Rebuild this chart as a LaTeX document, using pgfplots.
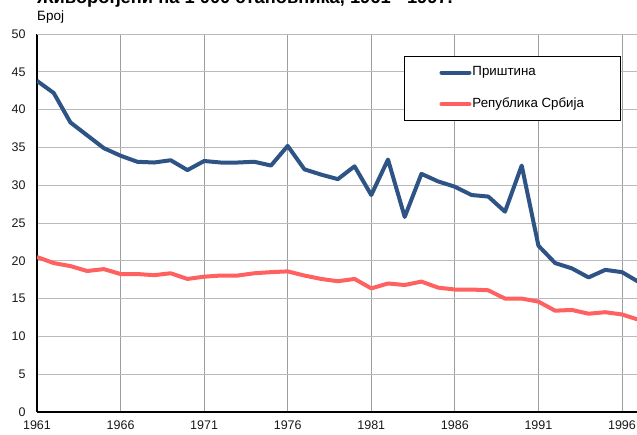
\documentclass[border=0pt]{standalone}
\usepackage{fontspec}
\setmainfont{Liberation Sans}
\usepackage{pgfplots}
\pgfplotsset{compat=1.18}
\definecolor{pblue}{RGB}{46,84,133}
\definecolor{pred}{RGB}{255,96,96}
\begin{document}
\begin{tikzpicture}
\begin{axis}[
  name=ax,
  scale only axis,
  width=601.7pt, height=378pt,
  xmin=1961, xmax=1997, ymin=0, ymax=50,
  xtick={1961,1966,...,1996},
  ytick={0,5,...,45},
  extra y ticks={50},
  extra y tick style={grid style={black, line width=1.2pt}},
  axis x line=bottom, axis y line=left,
  axis line style={-, black, line width=1.2pt},
  major tick length=0pt,
  grid=major,
  x grid style={color=black!38, line width=0.9pt},
  y grid style={color=black!27, line width=0.9pt},
  /pgf/number format/assume math mode=true,
  /pgf/number format/1000 sep={},
  tick label style={font=\fontsize{12.5}{14}\selectfont, text=black!90},
  yticklabel style={anchor=east, xshift=-8pt},
  xticklabel style={anchor=north, yshift=-5pt},
  legend style={at={(rel axis cs:0.61,0.942)}, anchor=north west,
    draw=black, line width=0.9pt, inner xsep=35pt, inner ysep=9pt,
    row sep=17pt,
    font=\fontsize{13.3}{15}\selectfont,
    nodes={inner sep=1pt, text height=9.5pt, text depth=3pt},
    /tikz/every even column/.append style={column sep=5pt}},
  legend cell align=left,
  legend image code/.code={\draw[#1, line cap=round] (0pt,0pt) -- (28pt,0pt);},
  every axis plot/.append style={line width=4pt, line join=round},
]
\addplot[pblue] coordinates {
(1961,43.8) (1962,42.2) (1963,38.3) (1964,36.6) (1965,34.9) (1966,33.9)
(1967,33.1) (1968,33.0) (1969,33.3) (1970,32.0) (1971,33.2) (1972,33.0)
(1973,33.0) (1974,33.1) (1975,32.6) (1976,35.2) (1977,32.1) (1978,31.4)
(1979,30.8) (1980,32.5) (1981,28.7) (1982,33.4) (1983,25.8) (1984,31.5)
(1985,30.5) (1986,29.8) (1987,28.7) (1988,28.5) (1989,26.5) (1990,32.6)
(1991,22.0) (1992,19.7) (1993,19.0) (1994,17.8) (1995,18.8) (1996,18.5)
(1997,17.2)};
\addlegendentry{Приштина}
\addplot[pred] coordinates {
(1961,20.5) (1962,19.7) (1963,19.3) (1964,18.65) (1965,18.9) (1966,18.25)
(1967,18.25) (1968,18.1) (1969,18.35) (1970,17.6) (1971,17.9) (1972,18.05)
(1973,18.05) (1974,18.35) (1975,18.5) (1976,18.6) (1977,18.05) (1978,17.6)
(1979,17.3) (1980,17.6) (1981,16.35) (1982,17.0) (1983,16.8) (1984,17.25)
(1985,16.45) (1986,16.2) (1987,16.2) (1988,16.1) (1989,15.0) (1990,15.0)
(1991,14.6) (1992,13.4) (1993,13.5) (1994,13.0) (1995,13.2) (1996,12.9)
(1997,12.2)};
\addlegendentry{Република Србија}
\end{axis}
\node[anchor=base west, font=\fontsize{13.5}{15}\selectfont, inner sep=0pt] at ([shift={(0pt,391pt)}]ax.south west) {Број};
\node[anchor=base west, font=\bfseries\fontsize{18.3}{20}\selectfont, inner sep=0pt] at ([shift={(0pt,408pt)}]ax.south west) {Живорођени на 1 000 становника, 1961 - 1997.};
\pgfresetboundingbox
\path[use as bounding box] ([shift={(-37pt,-22pt)}]ax.south west) rectangle ([shift={(600pt,412pt)}]ax.south west);
\end{tikzpicture}
\end{document}
